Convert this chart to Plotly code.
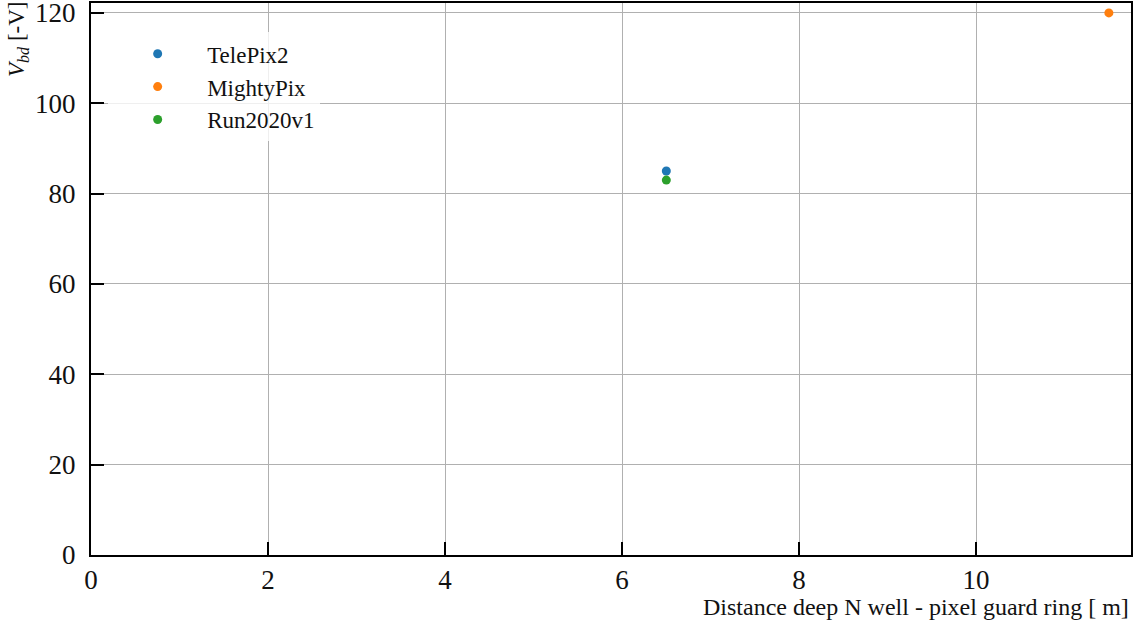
import plotly.graph_objects as go

names = ["TelePix2", "MightyPix", "Run2020v1"]
distance = [6.5, 11.5, 6.5]
vbd = [85, 120, 83]
colors = ["#1f77b4", "#ff7f0e", "#2ca02c"]
xticks = [0, 2, 4, 6, 8, 10]
yticks = [0, 20, 40, 60, 80, 100, 120]

FONT = "Liberation Serif"

fig = go.Figure()
for n, x, y, c in zip(names, distance, vbd, colors):
    fig.add_trace(go.Scatter(x=[x], y=[y], mode="markers", name=n,
                             marker=dict(color=c, size=9, line=dict(width=0))))

axis_common = dict(
    showline=True, linecolor="black", linewidth=2, mirror=True,
    ticks="inside", ticklen=13, tickwidth=2, tickcolor="black",
    showgrid=True, gridcolor="#b0b0b0", gridwidth=1,
    zeroline=False, automargin=False, ticklabeloverflow="allow",
    tickfont=dict(family=FONT, size=27, color="#111"),
)

fig.update_xaxes(range=[0, 11.75], tickvals=xticks, **axis_common)
fig.update_yaxes(range=[0, 122.2], tickvals=yticks, ticklabelstandoff=8, **axis_common)

fig.add_annotation(text="Distance deep N well - pixel guard ring [ m]",
                   xref="paper", yref="paper", x=1, y=0, xanchor="right", yanchor="top",
                   yshift=-37, showarrow=False,
                   font=dict(family=FONT, size=24, color="#111"))
fig.add_annotation(text="<i>V</i><sub><i>bd</i></sub> [-V]",
                   xref="paper", yref="paper", x=0, y=1, xanchor="center", yanchor="top",
                   xshift=-73, yshift=4, textangle=-90, showarrow=False,
                   font=dict(family=FONT, size=23, color="#111"))

fig.update_layout(
    width=1138, height=626,
    margin=dict(l=91, r=7, t=3, b=71, autoexpand=False),
    plot_bgcolor="white", paper_bgcolor="white",
    showlegend=True,
    legend=dict(x=0.0165, y=0.947, xanchor="left", yanchor="top",
                bgcolor="rgba(255,255,255,0.8)", borderwidth=0,
                font=dict(family=FONT, size=23, color="#111"),
                itemwidth=89, tracegroupgap=0),
)

fig.write_html("out.html")
